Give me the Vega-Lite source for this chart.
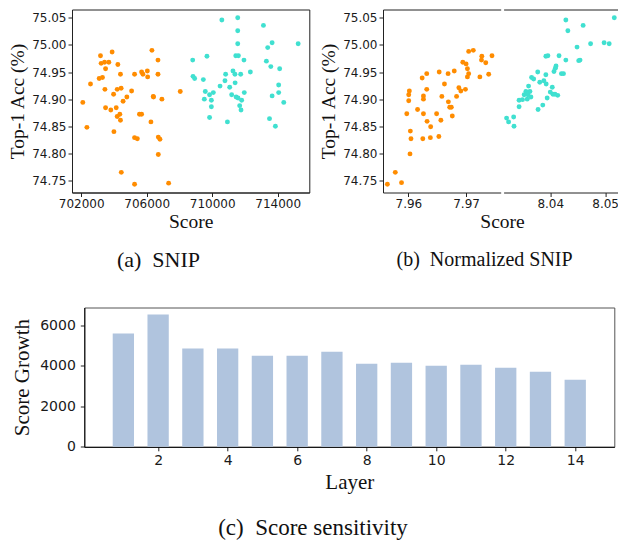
{
  "$schema": "https://vega.github.io/schema/vega-lite/v6.json",
  "background": "white",
  "padding": {"left": 7, "top": 8.5, "right": 0, "bottom": 0},
  "spacing": 35,
  "config": {
    "view": {"stroke": null},
    "axis": {
      "labelFont": "DejaVu Sans", "labelFontSize": 12, "labelColor": "#1a1a1a",
      "titleFont": "Liberation Serif", "titleFontWeight": "normal", "titleFontSize": 19.5, "titleColor": "#111",
      "tickColor": "#222", "domainColor": "#222", "tickSize": 4, "labelPadding": 2, "titlePadding": 3,
      "grid": false, "labelFlush": false, "labelOverlap": false
    },
    "title": {"font": "Liberation Serif", "fontSize": 22, "fontWeight": "normal", "color": "#111", "orient": "bottom", "anchor": "middle", "offset": 19, "frame": "bounds"}
  },
  "datasets": {
    "snip": [
      {"g":"g1","score":702100,"acc":74.894},{"g":"g1","score":702350,"acc":74.848},{"g":"g1","score":702570,"acc":74.928},
      {"g":"g1","score":703180,"acc":74.980},{"g":"g1","score":703220,"acc":74.966},{"g":"g1","score":703430,"acc":74.968},
      {"g":"g1","score":703100,"acc":74.938},{"g":"g1","score":703300,"acc":74.940},{"g":"g1","score":703490,"acc":74.956},
      {"g":"g1","score":703690,"acc":74.968},{"g":"g1","score":703890,"acc":74.987},{"g":"g1","score":704240,"acc":74.964},
      {"g":"g1","score":703450,"acc":74.918},{"g":"g1","score":703490,"acc":74.884},{"g":"g1","score":703810,"acc":74.880},
      {"g":"g1","score":703980,"acc":74.909},{"g":"g1","score":704140,"acc":74.884},{"g":"g1","score":704400,"acc":74.946},
      {"g":"g1","score":704200,"acc":74.918},{"g":"g1","score":704440,"acc":74.920},{"g":"g1","score":704200,"acc":74.868},
      {"g":"g1","score":704360,"acc":74.872},{"g":"g1","score":704400,"acc":74.861},{"g":"g1","score":704000,"acc":74.840},
      {"g":"g1","score":704560,"acc":74.896},{"g":"g1","score":704790,"acc":74.904},{"g":"g1","score":705080,"acc":74.915},
      {"g":"g1","score":704450,"acc":74.765},{"g":"g1","score":705260,"acc":74.946},{"g":"g1","score":705260,"acc":74.829},
      {"g":"g1","score":705430,"acc":74.827},{"g":"g1","score":705560,"acc":74.872},{"g":"g1","score":705690,"acc":74.872},
      {"g":"g1","score":705690,"acc":74.950},{"g":"g1","score":705770,"acc":74.946},{"g":"g1","score":706040,"acc":74.952},
      {"g":"g1","score":706060,"acc":74.941},{"g":"g1","score":705260,"acc":74.743},{"g":"g1","score":706260,"acc":74.858},
      {"g":"g1","score":706320,"acc":74.990},{"g":"g1","score":706400,"acc":74.905},{"g":"g1","score":706420,"acc":74.904},
      {"g":"g1","score":706690,"acc":74.972},{"g":"g1","score":706690,"acc":74.946},{"g":"g1","score":706710,"acc":74.830},
      {"g":"g1","score":706810,"acc":74.826},{"g":"g1","score":706710,"acc":74.798},{"g":"g1","score":706930,"acc":74.900},
      {"g":"g1","score":707340,"acc":74.745},{"g":"g1","score":708050,"acc":74.914},
      {"g":"g2","score":708810,"acc":74.972},{"g":"g2","score":708830,"acc":74.942},{"g":"g2","score":708930,"acc":74.938},
      {"g":"g2","score":709680,"acc":74.979},{"g":"g2","score":709460,"acc":74.936},{"g":"g2","score":709580,"acc":74.914},
      {"g":"g2","score":709520,"acc":74.900},{"g":"g2","score":709840,"acc":74.908},{"g":"g2","score":710070,"acc":74.912},
      {"g":"g2","score":709950,"acc":74.898},{"g":"g2","score":709950,"acc":74.886},{"g":"g2","score":709840,"acc":74.866},
      {"g":"g2","score":710590,"acc":75.046},{"g":"g2","score":710480,"acc":74.924},{"g":"g2","score":710820,"acc":74.946},
      {"g":"g2","score":710780,"acc":74.934},{"g":"g2","score":711070,"acc":74.922},{"g":"g2","score":710930,"acc":74.858},
      {"g":"g2","score":711190,"acc":74.908},{"g":"g2","score":711270,"acc":74.952},{"g":"g2","score":711390,"acc":74.946},
      {"g":"g2","score":711400,"acc":74.930},{"g":"g2","score":711560,"acc":75.050},{"g":"g2","score":711560,"acc":75.026},
      {"g":"g2","score":711560,"acc":75.002},{"g":"g2","score":711440,"acc":74.980},{"g":"g2","score":711600,"acc":74.980},
      {"g":"g2","score":711460,"acc":74.904},{"g":"g2","score":711580,"acc":74.902},{"g":"g2","score":711740,"acc":74.946},
      {"g":"g2","score":711800,"acc":74.898},{"g":"g2","score":711680,"acc":74.888},{"g":"g2","score":711760,"acc":74.880},
      {"g":"g2","score":711940,"acc":74.972},{"g":"g2","score":711960,"acc":74.912},{"g":"g2","score":712330,"acc":74.950},
      {"g":"g2","score":713130,"acc":75.036},{"g":"g2","score":713310,"acc":74.970},{"g":"g2","score":713390,"acc":74.995},
      {"g":"g2","score":713660,"acc":75.004},{"g":"g2","score":713580,"acc":74.960},{"g":"g2","score":713660,"acc":74.906},
      {"g":"g2","score":713500,"acc":74.864},{"g":"g2","score":713860,"acc":74.850},{"g":"g2","score":714120,"acc":74.956},
      {"g":"g2","score":714060,"acc":74.926},{"g":"g2","score":714060,"acc":74.912},{"g":"g2","score":714370,"acc":74.894},
      {"g":"g2","score":715250,"acc":75.002}
    ],
    "normL": [
      {"score":7.95636,"acc":74.743},{"score":7.95773,"acc":74.765},{"score":7.95881,"acc":74.746},{"score":7.95972,"acc":74.873},
      {"score":7.96006,"acc":74.897},{"score":7.96006,"acc":74.908},{"score":7.96017,"acc":74.915},{"score":7.96034,"acc":74.841},
      {"score":7.96045,"acc":74.827},{"score":7.96028,"acc":74.799},{"score":7.96159,"acc":74.881},{"score":7.96239,"acc":74.939},
      {"score":7.96261,"acc":74.906},{"score":7.96261,"acc":74.900},{"score":7.96261,"acc":74.873},{"score":7.96250,"acc":74.827},
      {"score":7.96318,"acc":74.947},{"score":7.96318,"acc":74.918},{"score":7.96324,"acc":74.859},{"score":7.96386,"acc":74.849},
      {"score":7.96381,"acc":74.829},{"score":7.96489,"acc":74.873},{"score":7.96534,"acc":74.950},{"score":7.96528,"acc":74.831},
      {"score":7.96563,"acc":74.861},{"score":7.96580,"acc":74.905},{"score":7.96625,"acc":74.928},{"score":7.96688,"acc":74.947},
      {"score":7.96693,"acc":74.895},{"score":7.96716,"acc":74.885},{"score":7.96744,"acc":74.885},{"score":7.96761,"acc":74.869},
      {"score":7.96795,"acc":74.952},{"score":7.96835,"acc":74.905},{"score":7.96875,"acc":74.921},{"score":7.96909,"acc":74.915},
      {"score":7.96943,"acc":74.968},{"score":7.97000,"acc":74.965},{"score":7.96989,"acc":74.918},{"score":7.97023,"acc":74.956},
      {"score":7.97045,"acc":74.947},{"score":7.97023,"acc":74.941},{"score":7.97045,"acc":74.988},{"score":7.97125,"acc":74.990},
      {"score":7.97239,"acc":74.941},{"score":7.97273,"acc":74.979},{"score":7.97267,"acc":74.972},{"score":7.97341,"acc":74.967},
      {"score":7.97392,"acc":74.946},{"score":7.97449,"acc":74.980}
    ],
    "normR": [
      {"score":8.03204,"acc":74.865},{"score":8.03241,"acc":74.858},{"score":8.03333,"acc":74.867},{"score":8.03340,"acc":74.850},
      {"score":8.03432,"acc":74.898},{"score":8.03432,"acc":74.886},{"score":8.03494,"acc":74.899},{"score":8.03525,"acc":74.908},
      {"score":8.03556,"acc":74.914},{"score":8.03580,"acc":74.900},{"score":8.03593,"acc":74.908},{"score":8.03630,"acc":74.914},
      {"score":8.03605,"acc":74.924},{"score":8.03648,"acc":74.904},{"score":8.03660,"acc":74.940},{"score":8.03698,"acc":74.937},
      {"score":8.03772,"acc":74.950},{"score":8.03778,"acc":74.881},{"score":8.03809,"acc":74.931},{"score":8.03864,"acc":74.889},
      {"score":8.03883,"acc":74.934},{"score":8.03920,"acc":74.945},{"score":8.03926,"acc":74.928},{"score":8.03920,"acc":74.979},
      {"score":8.03957,"acc":74.980},{"score":8.03944,"acc":74.902},{"score":8.04000,"acc":74.913},{"score":8.04037,"acc":74.922},
      {"score":8.04049,"acc":74.909},{"score":8.04068,"acc":74.951},{"score":8.04093,"acc":74.957},{"score":8.04086,"acc":74.909},
      {"score":8.04136,"acc":74.907},{"score":8.04105,"acc":74.961},{"score":8.04160,"acc":74.980},{"score":8.04204,"acc":74.947},
      {"score":8.04241,"acc":74.947},{"score":8.04284,"acc":75.046},{"score":8.04321,"acc":75.026},{"score":8.04284,"acc":74.972},
      {"score":8.04488,"acc":74.996},{"score":8.04519,"acc":74.971},{"score":8.04543,"acc":74.972},{"score":8.04599,"acc":75.036},
      {"score":8.04735,"acc":75.002},{"score":8.04981,"acc":75.004},{"score":8.05074,"acc":75.002},{"score":8.05167,"acc":75.050}
    ],
    "layers": [
      {"layer":1,"growth":5590},{"layer":2,"growth":6530},{"layer":3,"growth":4850},{"layer":4,"growth":4850},
      {"layer":5,"growth":4500},{"layer":6,"growth":4500},{"layer":7,"growth":4700},{"layer":8,"growth":4100},
      {"layer":9,"growth":4150},{"layer":10,"growth":4000},{"layer":11,"growth":4050},{"layer":12,"growth":3900},
      {"layer":13,"growth":3710},{"layer":14,"growth":3310}
    ]
  },
  "vconcat": [
    {
      "bounds": "flush",
      "spacing": 73,
      "hconcat": [
        {
          "width": 237.3, "height": 183,
          "view": {"stroke": "#222", "strokeWidth": 1},
          "title": {"text": "(a)\u00a0\u00a0SNIP", "frame": "bounds"},
          "data": {"name": "snip"},
          "mark": {"type": "circle", "size": 24, "opacity": 1},
          "encoding": {
            "x": {"field": "score", "type": "quantitative",
                  "scale": {"domain": [701440, 715930], "nice": false, "zero": false},
                  "axis": {"values": [702000, 706000, 710000, 714000], "format": "d", "title": "Score", "labelPadding": 1.5}},
            "y": {"field": "acc", "type": "quantitative",
                  "scale": {"domain": [74.7278, 75.0653], "nice": false, "zero": false},
                  "axis": {"values": [74.75, 74.8, 74.85, 74.9, 74.95, 75.0, 75.05], "format": ".2f", "title": "Top-1 Acc (%)", "titlePadding": 4}},
            "color": {"field": "g", "type": "nominal", "scale": {"domain": ["g1", "g2"], "range": ["#ff8c00", "#40e0d0"]}, "legend": null}
          }
        },
        {
          "bounds": "flush",
          "spacing": 2.6,
          "title": {"text": "(b)\u00a0\u00a0Normalized SNIP", "frame": "bounds", "fontSize": 20, "dx": 16},
          "hconcat": [
            {
              "width": 117.7, "height": 183,
              "data": {"name": "normL"},
              "encoding": {
                "y": {"field": "acc", "type": "quantitative",
                      "scale": {"domain": [74.7278, 75.0653], "nice": false, "zero": false},
                      "axis": {"values": [74.75, 74.8, 74.85, 74.9, 74.95, 75.0, 75.05], "format": ".2f", "title": "Top-1 Acc (%)", "titlePadding": 4}}
              },
              "layer": [
                {
                  "mark": {"type": "circle", "size": 24, "opacity": 1, "color": "#ff8c00"},
                  "encoding": {
                    "x": {"field": "score", "type": "quantitative",
                          "scale": {"domain": [7.9556, 7.976], "nice": false, "zero": false},
                          "axis": {"values": [7.96, 7.97], "format": ".2f", "title": "Score", "titleX": 119, "labelPadding": 1.5}}
                  }
                },
                {
                  "mark": {"type": "circle", "size": 24, "opacity": 0},
                  "encoding": {
                    "x": {"field": "score", "type": "quantitative",
                          "scale": {"domain": [7.9556, 7.976], "nice": false, "zero": false},
                          "axis": {"orient": "top", "labels": false, "ticks": false, "title": null}}
                  }
                }
              ],
              "resolve": {"axis": {"x": "independent"}}
            },
            {
              "width": 114.7, "height": 183,
              "data": {"name": "normR"},
              "encoding": {
                "y": {"field": "acc", "type": "quantitative",
                      "scale": {"domain": [74.7278, 75.0653], "nice": false, "zero": false},
                      "axis": {"orient": "right", "labels": false, "ticks": false, "title": null}}
              },
              "layer": [
                {
                  "mark": {"type": "circle", "size": 24, "opacity": 1, "color": "#40e0d0"},
                  "encoding": {
                    "x": {"field": "score", "type": "quantitative",
                          "scale": {"domain": [8.0315, 8.0524], "nice": false, "zero": false},
                          "axis": {"values": [8.04, 8.05], "format": ".2f", "title": null, "labelPadding": 1.5}}
                  }
                },
                {
                  "mark": {"type": "circle", "size": 24, "opacity": 0},
                  "encoding": {
                    "x": {"field": "score", "type": "quantitative",
                          "scale": {"domain": [8.0315, 8.0524], "nice": false, "zero": false},
                          "axis": {"orient": "top", "labels": false, "ticks": false, "title": null}}
                  }
                }
              ],
              "resolve": {"axis": {"x": "independent"}}
            }
          ]
        }
      ]
    },
    {
      "bounds": "flush",
      "spacing": 11.3,
      "hconcat": [
        {
          "width": 1, "height": 139.3,
          "data": {"values": []},
          "mark": "point",
          "encoding": {}
        },
        {
          "width": 530, "height": 139.3,
          "view": {"stroke": "#555", "strokeWidth": 1},
          "title": {"text": "(c)\u00a0\u00a0Score sensitivity", "offset": 24, "fontSize": 23, "frame": "bounds"},
          "data": {"name": "layers"},
          "mark": {"type": "bar", "width": 21.3, "color": "#b0c4de"},
          "encoding": {
            "x": {"field": "layer", "type": "quantitative",
                  "scale": {"domain": [0.02, 14.98], "nice": false, "zero": false},
                  "axis": {"values": [2, 4, 6, 8, 10, 12, 14], "format": "d", "title": "Layer", "labelFontSize": 14, "titleFontSize": 21, "labelPadding": 3, "titlePadding": 4, "domainColor": "#000"}},
            "y": {"field": "growth", "type": "quantitative",
                  "scale": {"domain": [0, 6880], "nice": false},
                  "axis": {"values": [0, 2000, 4000, 6000], "format": "d", "title": "Score Growth", "labelFontSize": 14, "titleFontSize": 21, "labelPadding": 5, "titlePadding": 7, "domainColor": "#000"}}
          }
        }
      ]
    }
  ]
}
